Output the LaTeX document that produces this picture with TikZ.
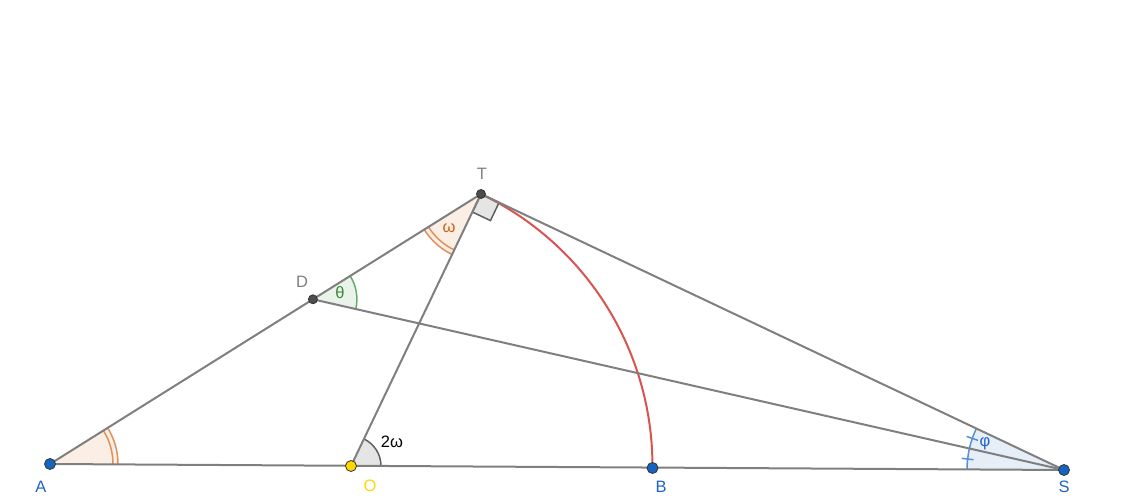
\documentclass[tikz,border=0pt]{standalone}
\usepackage{fontspec}
\setmainfont{Liberation Sans}
\usetikzlibrary{angles,calc}
\definecolor{lin}{HTML}{7F7F7F}
\definecolor{ptblue}{HTML}{1565C0}
\definecolor{lblblue}{HTML}{1E64C8}
\definecolor{ptyellow}{HTML}{FFD700}
\definecolor{ptdark}{HTML}{4D4D4D}
\definecolor{orfill}{HTML}{FBEEE5}
\definecolor{orline}{HTML}{E0905A}
\definecolor{ortext}{HTML}{D06010}
\definecolor{grfill}{HTML}{EAF3EA}
\definecolor{grline}{HTML}{6AAA6A}
\definecolor{grtext}{HTML}{3A8A3A}
\definecolor{blfill}{HTML}{E6EEF8}
\definecolor{blline}{HTML}{5590D8}
\definecolor{gyfill}{HTML}{E5E5E5}
\definecolor{gyline}{HTML}{606060}
\definecolor{arcred}{HTML}{D9534F}
\tikzset{
  seg/.style={draw=lin, line width=2pt},
  ptb/.style={circle, draw=black!80, fill=ptblue, inner sep=0pt, minimum size=11pt, line width=0.8pt},
  pty/.style={circle, draw=black!80, fill=ptyellow, inner sep=0pt, minimum size=11pt, line width=0.8pt},
  ptd/.style={circle, draw=black!80, fill=ptdark, inner sep=0pt, minimum size=9pt, line width=0.8pt},
  lbl/.style={font=\fontsize{16.5}{20}\selectfont, inner sep=0pt},
}
\begin{document}
\begin{tikzpicture}[x=1pt,y=1pt]
\useasboundingbox (0,0) rectangle (1122,500);
\coordinate (A) at (50,36);
\coordinate (O) at (351,34);
\coordinate (B) at (652.5,32);
\coordinate (S) at (1064,30);
\coordinate (T) at (481,306);
\coordinate (D) at ($(A)!0.61!(T)$);
\coordinate (r1) at ($(T)!20pt!(S)$);
\coordinate (r2) at ($(T)!20pt!(O)$);
\coordinate (r3) at ($(r1)+(r2)-(T)$);
% angle fills
\pic[fill=orfill, draw=none, angle radius=68] {angle=O--A--T};
\pic[fill=orfill, draw=none, angle radius=67] {angle=A--T--O};
\pic[fill=grfill, draw=grline, line width=1.5pt, angle radius=44] {angle=S--D--T};
\pic[fill=gyfill, draw=gyline, line width=1.5pt, angle radius=30] {angle=B--O--T};
\pic[fill=blfill, draw=blline, line width=1.5pt, angle radius=97] {angle=T--S--A};
% double arcs
\pic[draw=orline, line width=1.5pt, angle radius=68] {angle=O--A--T};
\pic[draw=orline, line width=1.5pt, angle radius=63] {angle=O--A--T};
\pic[draw=orline, line width=1.5pt, angle radius=67] {angle=A--T--O};
\pic[draw=orline, line width=1.5pt, angle radius=62] {angle=A--T--O};
% ticks at S
\draw[blline, line width=1.5pt] ($(S)+(161:91)$) -- ($(S)+(161:103)$);
\draw[blline, line width=1.5pt] ($(S)+(173.5:91)$) -- ($(S)+(173.5:103)$);
% right angle
\draw[fill=gyfill, draw=gyline, line width=1.5pt] (T) -- (r1) -- (r3) -- (r2) -- cycle;
% red arc
\draw[arcred, line width=2pt] (T) arc[start angle=64.45, end angle=-0.38, radius=301.5];
% segments
\draw[seg] (A) -- (S);
\draw[seg] (A) -- (T);
\draw[seg] (O) -- (T);
\draw[seg] (T) -- (S);
\draw[seg] (D) -- (S);
% points
\node[ptb] (pA) at (A) {};
\node[pty] (pO) at (O) {};
\node[ptb] (pB) at (B) {};
\node[ptb] (pS) at (S) {};
\node[ptd] (pT) at (T) {};
\node[ptd] (pD) at (D) {};
% labels
\node[lbl, text=lblblue] (lA) at (41,13) {A};
\node[lbl, text=ptyellow] (lO) at (370,14) {O};
\node[lbl, text=lblblue] (lB) at (661,13) {B};
\node[lbl, text=lblblue] (lS) at (1064,13) {S};
\node[lbl, text=gray] (lT) at (482,326) {T};
\node[lbl, text=gray] (lD) at (302,218) {D};
\node[lbl, text=ortext] (lw) at (449,272) {ω};
\node[lbl, text=grtext] (lth) at (340,207) {θ};
\node[lbl, text=black] (l2w) at (392,58) {2ω};
\node[lbl, text=lblblue] (lphi) at (985,56) {φ};
\end{tikzpicture}
\end{document}
